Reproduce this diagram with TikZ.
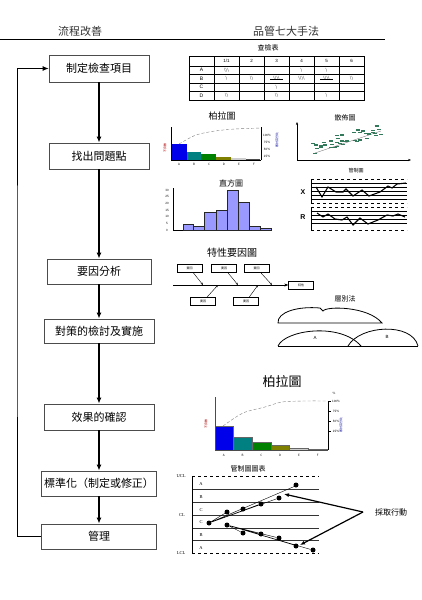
\documentclass[tikz,border=0pt]{standalone}
\usepackage{fontspec}
\setmainfont{Noto Sans CJK TC}
\newfontfamily\arl{Liberation Sans}
\newfontfamily\tms{Liberation Serif}
\usetikzlibrary{arrows.meta}
\definecolor{boxline}{gray}{0.3}
\definecolor{barblue}{RGB}{0, 0, 235}
\definecolor{barteal}{RGB}{0, 128, 128}
\definecolor{bargreen}{RGB}{0, 128, 0}
\definecolor{barolive}{RGB}{128, 128, 0}
\definecolor{bargray}{RGB}{205, 205, 205}
\definecolor{histblue}{RGB}{153, 153, 255}
\definecolor{dotgreen}{RGB}{50, 120, 90}
\newcommand{\tlm}{\textbackslash}

\begin{document}
\begin{tikzpicture}[x=1pt, y=-1pt,
		fs/.style={font=\fontsize{#1}{#1}\selectfont},
		flowbox/.style={draw=boxline, line width=0.8pt, inner sep=0pt, fs=11},
		flowarrow/.style={line width=1.6pt, -{Latex[length=6pt, width=5pt]}},
		tally/.style={fs=4, inner sep=0pt},
		tick/.style={fs=3, inner sep=0pt},
		causebox/.style={draw, thin, minimum width=25pt, minimum height=8pt, inner sep=0pt, fs=3},
		dot/.style={circle, fill, inner sep=0pt, minimum size=5pt},
		zone/.style={font=\tms\fontsize{4.5}{4.5}\selectfont, inner sep=0pt}]
		\useasboundingbox (0,0) rectangle (421,600);

		\node[fs=11, black!80] (flow head) at (80,31) {流程改善};
		\node[fs=11, black!80] (tool head) at (286,31) {品管七大手法};
		\draw[line width=0.6pt] (0,39) -- (385,39);

		\node[flowbox, minimum width=100pt, minimum height=27pt] (define) at (99,68.5) {制定檢查項目};
		\node[flowbox, minimum width=100pt, minimum height=26pt] (find) at (99,156) {找出問題點};
		\node[flowbox, minimum width=104pt, minimum height=25pt] (cause) at (99,271.5) {要因分析};
		\node[flowbox, minimum width=110pt, minimum height=24pt] (measure) at (99,331) {對策的檢討及實施};
		\node[flowbox, minimum width=110pt, minimum height=26pt] (effect) at (99,417) {效果的確認};
		\node[flowbox, minimum width=115pt, minimum height=25pt] (standard) at (99,483.5) {標準化（制定或修正）};
		\node[flowbox, minimum width=115pt, minimum height=25pt] (manage) at (99,536.5) {管理};
		\foreach \a/\b in {define/find, find/cause, cause/measure, measure/effect, effect/standard, standard/manage}
			\draw[flowarrow] (\a) -- (\b);
		\coordinate (back) at (17,300);
		\draw[line width=0.8pt, -{Latex[length=6pt, width=5pt]}] (manage.west) -| (back) |- (define.west);

		\node[fs=7] (check title) at (268,48) {查檢表};
		\draw[line width=0.7pt] (189,56) rectangle (364,100);
		\foreach \x in {214,239,264,289,314,339}
			\draw[thin] (\x,56) -- (\x,100);
		\foreach \y in {66,74.5,83,91.5}
			\draw[thin] (189,\y) -- (364,\y);
		\foreach \t [count=\i] in {1/1,2,3,4,5,6}
			\node[fs=4.5, inner sep=0pt] (col\i) at ({201.5+25*\i},61) {\arl\t};
		\foreach \r [count=\i] in {A,B,C,D}
			\node[fs=5, inner sep=0pt] (row\r) at (201.5,{61.75+8.5*\i}) {\arl\r};
		\node[tally] (a1) at (226.5,70.25) {\tlm\tlm\tlm};
		\node[tally] (a4) at (301.5,70.25) {\tlm};
		\node[tally] (a5) at (326.5,70.25) {\tlm};
		\node[tally] (b1) at (226.5,78.75) {\tlm};
		\node[tally] (b2) at (251.5,78.75) {\tlm\tlm};
		\node[tally] (b3) at (276.5,78.75) {\tlm\tlm\tlm\tlm};
		\node[tally] (b4) at (301.5,78.75) {\tlm\tlm\tlm\tlm};
		\node[tally] (b5) at (326.5,78.75) {\tlm\tlm\tlm\tlm};
		\node[tally] (b6) at (351.5,78.75) {\tlm\tlm};
		\node[tally] (c3) at (276.5,87.25) {\tlm};
		\node[tally] (d1) at (226.5,95.75) {\tlm\tlm};
		\node[tally] (d3) at (276.5,95.75) {\tlm\tlm};
		\node[tally] (d5) at (326.5,95.75) {\tlm};
		\draw[thin] ([xshift=-3pt]b3.west) -- ([xshift=3pt]b3.east);
		\draw[thin] ([xshift=-3pt]b5.west) -- ([xshift=3pt]b5.east);

		\node[fs=9] (pareto title) at (222,116) {柏拉圖};
		\fill[barblue] (171,144) rectangle (187,160);
		\fill[barteal] (187,152) rectangle (201,160);
		\fill[bargreen] (201,154) rectangle (216,160);
		\fill[barolive] (216,157) rectangle (231,160);
		\fill[bargray] (231,158) rectangle (246,160);
		\fill[black!70] (246,159.3) rectangle (260,160);
		\draw[thin] (171,127) -- (171,160) -- (261,160);
		\draw[thin] (261,127) -- (261,160);
		\draw[gray, densely dashed, thin] plot[smooth] coordinates {(179,144) (196,135) (215,131) (235,129) (261,128)};
		\foreach \p [count=\i] in {100\%,75\%,50\%,25\%}
			\node[tick] (pr\i) at (267,{128+7*\i}) {\p};
		\foreach \l [count=\i] in {A,B,C,D,E,F}
			\node[tick] (px\i) at ({164+15*\i},164) {\l};
		\node[tick, red!70!black, rotate=90] (pareto left) at (165,148) {不良數};
		\node[tick, blue!60!black, rotate=90] (pareto right) at (277,140) {累計百分比};

		\node[fs=7] (scatter title) at (345,118) {散佈圖};
		\draw[thin, -{Stealth[length=3pt]}] (297,160) -- (297,122);
		\draw[thin, -{Stealth[length=3pt]}] (297,160) -- (411,160);
		\draw[gray, thin] (315,153) -- (381,131);
		\pgfmathsetseed{7}
		\foreach \i in {1,...,40} {
			\pgfmathsetmacro\px{313+69*rnd}
			\pgfmathsetmacro\py{148-0.28*(\px-313)+6*rand}
			\draw[dotgreen, line width=1.3pt] (\px-2,\py) -- (\px+2,\py);
		}

		\node[fs=8] (hist title) at (231,183) {直方圖};
		\draw[thin] (173,188) -- (173,230) -- (272,230);
		\foreach \v in {0,5,...,30}
			\node[tick] (hy\v) at (167,{230-1.333*\v}) {\v};
		\foreach \xa/\xb/\h in {183/193/4, 193/204/2.5, 204/216/13.5, 216/227/15, 227/238/30, 238/249/21, 249/260/2.5, 260/271/1}
			\filldraw[fill=histblue, draw=black!85, line width=0.8pt] (\xa,230) rectangle (\xb,{230-1.333*\h});

		\node[fs=5] (xr title) at (356,171) {管制圖};
		\draw[dashed, thin] (311,179) -- (407,179);
		\draw[dashed, thin] (311,203) -- (407,203);
		\foreach \y in {183,187,191,195,199}
			\draw[thin] (311,\y) -- (407,\y);
		\draw[thin] (311,179) -- (311,203);
		\draw[dashed, thin] (311,207) -- (407,207);
		\draw[dashed, thin] (311,230) -- (407,230);
		\foreach \y in {211,215,219,223}
			\draw[thin] (311,\y) -- (407,\y);
		\draw[thin] (311,207) -- (311,230);
		\node[font=\arl\bfseries\fontsize{7}{7}\selectfont] (xbar) at (303,192) {X};
		\node[font=\arl\bfseries\fontsize{7}{7}\selectfont] (range) at (303,217) {R};
		\draw[line width=1.1pt] plot coordinates {(316,187) (322,197) (328,187) (336,192) (343,192) (346,189) (353,196) (362,190) (369,196) (380,192) (388,186) (392,188) (397,184) (406,183)};
		\draw[line width=1.1pt] plot coordinates {(317,213) (323,217) (328,214) (335,219) (342,220) (347,217) (353,225) (360,218) (368,224) (378,220) (387,215) (393,216) (398,214) (405,217)};

		\node[fs=10] (fish title) at (232,253) {特性要因圖};
		\node[causebox] (c1) at (189.5,268) {要因};
		\node[causebox] (c2) at (224,268) {要因};
		\node[causebox] (c3) at (256.5,268) {要因};
		\node[causebox] (c4) at (203,301.5) {要因};
		\node[causebox] (c5) at (246,301.5) {要因};
		\node[causebox] (head) at (301,285) {特性};
		\coordinate (tail) at (173,285);
		\coordinate (s1) at (203,285);
		\coordinate (s2) at (238,285);
		\coordinate (s3) at (272,285);
		\coordinate (s4) at (218,285);
		\coordinate (s5) at (258,285);
		\draw[thin, -{Stealth[length=4pt]}] (tail) -- (head);
		\foreach \c/\s in {c1/s1, c2/s2, c3/s3, c4/s4, c5/s5}
			\draw[thin, -{Stealth[length=2.5pt]}] (\c) -- (\s);

		\node[fs=7] (strat title) at (345,299) {層別法};
		\draw[line width=0.8pt] (278,323) .. controls (277,312) and (298,306) .. (320,308) -- (323,311) .. controls (326,306) and (368,306) .. (382,323) -- cycle;
		\draw[line width=0.8pt] (278,346) -- (418,346);
		\draw[line width=0.8pt] (278,346) .. controls (285,330) and (340,322) .. (361,346);
		\draw[line width=0.8pt] (348,346) .. controls (360,325) and (412,322) .. (418,346);
		\node[fs=4.5] (group a) at (315,338) {\arl A};
		\node[fs=4.5] (group b) at (387,337) {\arl B};

		\node[fs=13] (big title) at (282,382) {柏拉圖};
		\filldraw[fill=barblue, draw=black!60, thin] (215,426) rectangle (233,450);
		\filldraw[fill=barteal, draw=black!60, thin] (233,437) rectangle (252,450);
		\filldraw[fill=bargreen, draw=black!60, thin] (252,442) rectangle (271,450);
		\filldraw[fill=barolive, draw=black!60, thin] (271,445) rectangle (289,450);
		\filldraw[fill=bargray, draw=black!60, thin] (289,448) rectangle (308,450);
		\filldraw[fill=black!60, draw=black!60, thin] (308,449) rectangle (327,450);
		\draw[thin, black!70] (215,397) -- (215,450) -- (328,450);
		\draw[thin] (328,401) -- (328,450);
		\draw[gray, densely dashed, thin] plot[smooth] coordinates {(223,426) (243,413) (265,407) (282,402) (305,401) (327,401)};
		\foreach \p [count=\i] in {100\%,75\%,50\%,25\%} {
			\draw[thin] (328,{391+10*\i}) -- (331,{391+10*\i});
			\node[tick] (br\i) at (336,{391+10*\i}) {\p};
		}
		\node[tick] (br0) at (334,393) {\%};
		\foreach \l [count=\i] in {A,B,C,D,E,F}
			\node[tick] (bx\i) at ({205+18.8*\i},455) {\l};
		\node[tick, red!70!black, rotate=90] (big left) at (206,424) {不良數};
		\node[tick, blue!60!black, rotate=90] (big right) at (341,425) {累計百分比};

		\node[fs=7] (ctl title) at (248,469) {管制圖圖表};
		\draw[dashed, thin] (192,476) -- (319,476);
		\draw[dashed, thin] (192,553) -- (319,553);
		\foreach \y in {489,502,515,528,540}
			\draw[thin, black!80] (192,\y) -- (319,\y);
		\draw[thin] (192,476) -- (192,553);
		\node[zone] (ucl) at (181,476) {UCL};
		\node[zone] (cl) at (182,515) {CL};
		\node[zone] (lcl) at (181,553) {LCL};
		\foreach \z/\y in {A/484, B/497, C/510, C/522, B/535, A/548}
			\node[zone] (zone\y) at (201,\y) {\z};
		\foreach \x/\y [count=\i] in {209/523, 227/512, 243/509, 261/504, 279/498, 296/485}
			\node[dot] (u\i) at (\x,\y) {};
		\foreach \x/\y [count=\i] in {227/525, 243/533, 261/534, 279/538, 296/546, 313/550}
			\node[dot] (l\i) at (\x,\y) {};
		\draw[thin] (u1) \foreach \i in {2,...,6} { -- (u\i) };
		\draw[thin] (l1) \foreach \i in {2,...,6} { -- (l\i) };
		\node[fs=8] (action) at (391,512) {採取行動};
		\coordinate (act) at (363,512);
		\coordinate (hit up) at (284,494);
		\coordinate (hit low) at (300,545);
		\draw[line width=1.2pt, -{Latex[length=5pt, width=4pt]}] (act) -- (hit up);
		\draw[line width=1.2pt, -{Latex[length=5pt, width=4pt]}] (act) -- (hit low);
	\end{tikzpicture}
\end{document}
